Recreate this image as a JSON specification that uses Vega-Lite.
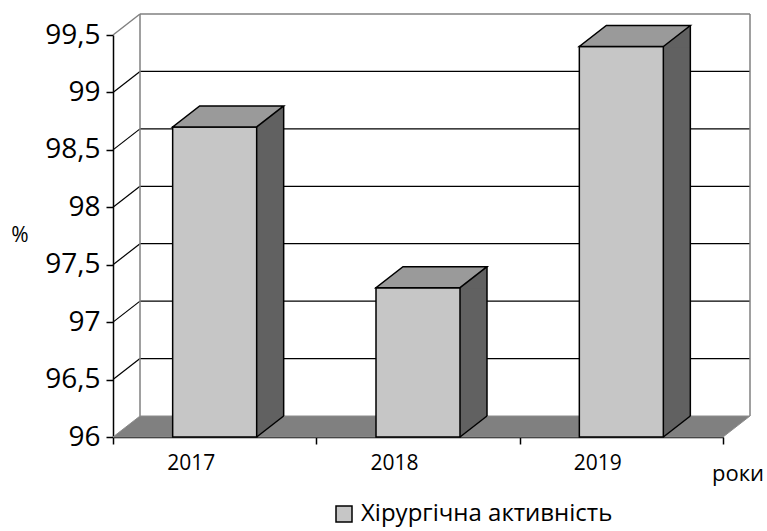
{
  "$schema": "https://vega.github.io/schema/vega-lite/v6.json",
  "width": 610,
  "height": 402,
  "autosize": {"type": "none"},
  "padding": {"left": 113, "top": 35, "right": 44, "bottom": 94},
  "config": {"view": {"stroke": null}, "font": "Open Sans"},
  "datasets": {
    "bars": [
      {"year": "2017", "value": 98.7, "series": "Хірургічна активність"},
      {"year": "2018", "value": 97.3, "series": "Хірургічна активність"},
      {"year": "2019", "value": 99.4, "series": "Хірургічна активність"}
    ],
    "grid": [{"v": 96.5}, {"v": 97}, {"v": 97.5}, {"v": 98}, {"v": 98.5}, {"v": 99}],
    "one": [{}]
  },
  "resolve": {"scale": {"x": "independent"}, "axis": {"x": "independent"}},
  "layer": [
    {
      "layer": [
        {
          "data": {"name": "grid"},
          "mark": {"type": "rule", "color": "black", "strokeWidth": 1.2, "xOffset": 27, "x2Offset": 27, "yOffset": -21},
          "encoding": {
            "x": {"datum": 0, "type": "quantitative", "scale": {"domain": [0, 1]}, "axis": {"orient": "top", "labels": false, "ticks": false, "domain": false, "grid": false, "title": null}},
            "x2": {"datum": 1},
            "y": {"field": "v", "type": "quantitative", "title": "%", "scale": {"domain": [96, 99.5]}}
          }
        },
        {
          "data": {"name": "grid"},
          "mark": {"type": "rule", "color": "black", "strokeWidth": 1.2, "x2Offset": 27, "y2Offset": -21},
          "encoding": {
            "x": {"datum": 0, "type": "quantitative", "scale": {"domain": [0, 1]}},
            "x2": {"datum": 0},
            "y": {"field": "v", "type": "quantitative", "title": "%"},
            "y2": {"field": "v"}
          }
        },
        {
          "data": {"name": "one"},
          "mark": {"type": "rule", "color": "#808080", "strokeWidth": 1.5, "xOffset": 27, "x2Offset": 27, "yOffset": -21},
          "encoding": {
            "x": {"datum": 0, "type": "quantitative"},
            "x2": {"datum": 1},
            "y": {"datum": 99.5, "type": "quantitative", "title": "%"}
          }
        },
        {
          "data": {"name": "one"},
          "mark": {"type": "rule", "color": "#808080", "strokeWidth": 1.5, "x2Offset": 27, "y2Offset": -21},
          "encoding": {
            "x": {"datum": 0, "type": "quantitative"},
            "x2": {"datum": 0},
            "y": {"datum": 99.5, "type": "quantitative", "title": "%"},
            "y2": {"datum": 99.5}
          }
        },
        {
          "data": {"name": "one"},
          "mark": {"type": "rule", "color": "#808080", "strokeWidth": 1.5, "xOffset": 27, "yOffset": -21, "y2Offset": -21},
          "encoding": {
            "x": {"datum": 0, "type": "quantitative"},
            "y": {"datum": 99.5, "type": "quantitative", "title": "%"},
            "y2": {"datum": 96}
          }
        },
        {
          "data": {"name": "one"},
          "mark": {"type": "rule", "color": "#808080", "strokeWidth": 1.5, "xOffset": 27, "yOffset": -21, "y2Offset": -21},
          "encoding": {
            "x": {"datum": 1, "type": "quantitative"},
            "y": {"datum": 99.5, "type": "quantitative", "title": "%"},
            "y2": {"datum": 96}
          }
        },
        {
          "data": {"name": "one"},
          "mark": {"type": "point", "shape": "M-305,0L305,0L332,-21L-278,-21Z", "size": 4, "filled": true, "fill": "#808080", "stroke": "#8c8c8c", "strokeWidth": 1, "opacity": 1},
          "encoding": {
            "x": {"datum": 0.5, "type": "quantitative"},
            "y": {"datum": 96, "type": "quantitative", "title": "%"}
          }
        }
      ]
    },
    {
      "data": {"name": "bars"},
      "layer": [
        {
          "mark": {"type": "bar", "fill": "#616161", "width": 27, "xOffset": 55.5, "y2Offset": -21},
          "encoding": {
            "x": {"field": "year", "type": "nominal", "title": "роки", "scale": {"paddingInner": 0, "paddingOuter": 0}},
            "y": {"field": "value", "type": "quantitative", "title": "%"},
            "y2": {"datum": 96}
          }
        },
        {
          "mark": {"type": "point", "shape": "M42,0L69,-21L69,1L42,1Z", "size": 4, "filled": true, "fill": "#616161", "strokeWidth": 0, "opacity": 1},
          "encoding": {
            "x": {"field": "year", "type": "nominal", "title": "роки"},
            "y": {"field": "value", "type": "quantitative", "title": "%"}
          }
        },
        {
          "mark": {"type": "point", "shape": "M42,-22L42,0L69,-21L69,-22Z", "size": 4, "filled": true, "fill": "#616161", "strokeWidth": 0, "opacity": 1},
          "encoding": {
            "x": {"field": "year", "type": "nominal", "title": "роки"},
            "y": {"datum": 96, "type": "quantitative", "title": "%"}
          }
        },
        {
          "mark": {"type": "bar", "width": 84, "stroke": "black", "strokeWidth": 1.5, "opacity": 1},
          "encoding": {
            "x": {
              "field": "year", "type": "nominal", "title": "роки",
              "axis": {
                "orient": "bottom",
                "titleX": 624.5, "titleY": 43, "titleAlign": "center", "titleBaseline": "alphabetic",
                "titleFontSize": 22, "titleFontWeight": "normal", "titleColor": "black",
                "labelAngle": 0, "labelFontSize": 21, "labelColor": "black", "labelPadding": 19,
                "tickSize": 7, "tickColor": "black", "tickWidth": 1.5, "tickBand": "extent",
                "domainColor": "black", "domainWidth": 1.5, "grid": false
              }
            },
            "y": {
              "field": "value", "type": "quantitative", "title": "%",
              "axis": {
                "orient": "left",
                "titleAngle": 0, "titleX": -93.5, "titleY": 200, "titleAlign": "center", "titleBaseline": "middle",
                "titleFontSize": 21, "titleFontWeight": "normal", "titleColor": "black",
                "values": [96, 96.5, 97, 97.5, 98, 98.5, 99, 99.5],
                "labelExpr": "replace(toString(datum.value), '.', ',')",
                "labelFontSize": 28, "labelColor": "black", "labelPadding": 6,
                "tickSize": 7, "tickColor": "black", "tickWidth": 1.5,
                "domainColor": "black", "domainWidth": 1.5, "grid": false
              }
            },
            "y2": {"datum": 96},
            "color": {
              "field": "series", "type": "nominal",
              "scale": {"range": ["#c6c6c6"]},
              "legend": {
                "title": null, "orient": "none", "legendX": 219, "legendY": 467, "direction": "horizontal",
                "symbolType": "square", "symbolSize": 256, "symbolStrokeColor": "black", "symbolStrokeWidth": 1.5,
                "symbolOpacity": 1, "labelFontSize": 24, "labelColor": "black", "labelOffset": 5, "labelLimit": 0, "padding": 0
              }
            }
          }
        },
        {
          "mark": {"type": "point", "shape": "M-42,0L42,0L69,-21L-15,-21Z", "size": 4, "filled": true, "fill": "#9a9a9a", "stroke": "black", "strokeWidth": 1.5, "opacity": 1},
          "encoding": {
            "x": {"field": "year", "type": "nominal", "title": "роки"},
            "y": {"field": "value", "type": "quantitative", "title": "%"}
          }
        },
        {
          "mark": {"type": "bar", "fill": "black", "width": 1.5, "xOffset": 69, "yOffset": -21, "y2Offset": -21},
          "encoding": {
            "x": {"field": "year", "type": "nominal", "title": "роки"},
            "y": {"field": "value", "type": "quantitative", "title": "%"},
            "y2": {"datum": 96}
          }
        },
        {
          "mark": {"type": "point", "shape": "M42,0L69,-21", "size": 4, "filled": false, "stroke": "black", "strokeWidth": 1.5, "opacity": 1},
          "encoding": {
            "x": {"field": "year", "type": "nominal", "title": "роки"},
            "y": {"datum": 96, "type": "quantitative", "title": "%"}
          }
        }
      ]
    }
  ]
}
